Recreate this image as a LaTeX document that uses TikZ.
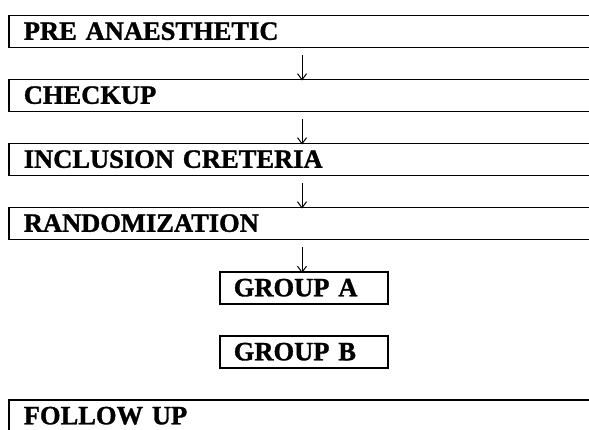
\documentclass[tikz,border=0pt]{standalone}
\usepackage{fontspec}
\setmainfont{Liberation Serif}[BoldFeatures={FakeBold=1.2}]
\usetikzlibrary{arrows.meta}
\begin{document}
\begin{tikzpicture}[x=1pt,y=-1pt,
  wide/.style={draw, line width=1.6pt, anchor=north west, minimum height=32pt,
    inner ysep=0pt, inner xsep=15pt, text width=680pt, align=left,
    text height=17.5pt, text depth=0.5pt, font=\fontsize{26.5}{30}\selectfont\bfseries},
  grp/.style={wide, inner xsep=14pt, text width=140pt},
  arr/.style={line width=1pt, -{Straight Barb[length=6pt,width=9pt]}}]
\path[use as bounding box] (0,0) rectangle (589,429);
\clip (0,0) rectangle (589,429);
\node[wide] (pre) at (8,14.5) {PRE ANAESTHETIC};
\node[wide] (chk) at (8,78.5) {CHECKUP};
\node[wide] (inc) at (8,142.5) {INCLUSION CRETERIA};
\node[wide] (rnd) at (8,206.5) {RANDOMIZATION};
\node[grp] (ga) at (219,271) {GROUP A};
\node[grp] (gb) at (219,335) {GROUP B};
\node[wide] (fol) at (8,399) {FOLLOW UP};
\coordinate (ax) at (302,0);
\draw[arr] ([yshift=-7pt]ax |- pre.south) -- ([yshift=-2pt]ax |- chk.north);
\draw[arr] ([yshift=-7pt]ax |- chk.south) -- ([yshift=-2pt]ax |- inc.north);
\draw[arr] ([yshift=-7pt]ax |- inc.south) -- ([yshift=-2pt]ax |- rnd.north);
\draw[arr] ([yshift=-7pt]ax |- rnd.south) -- ([yshift=-2pt]ax |- ga.north);
\end{tikzpicture}
\end{document}
